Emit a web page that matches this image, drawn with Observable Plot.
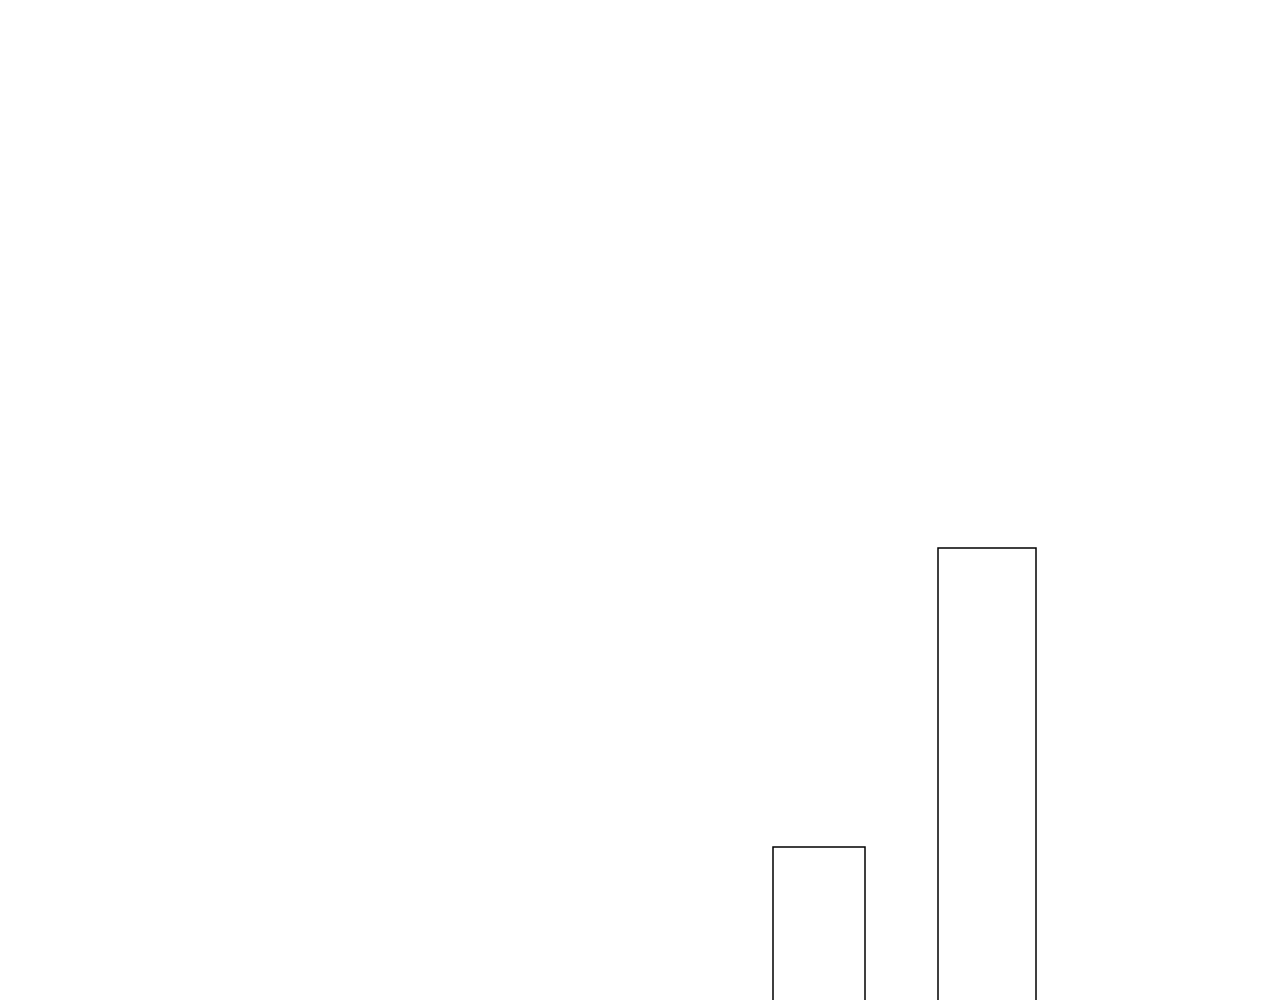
<!DOCTYPE html>
<html>
<head>
<meta charset="utf-8">
<script src="https://cdn.jsdelivr.net/npm/d3@7"></script>
<script src="https://cdn.jsdelivr.net/npm/@observablehq/plot@0.6"></script>
<style>
  html, body { margin: 0; padding: 0; background: #ffffff; overflow: hidden; }
  #chart svg { display: block; }
</style>
</head>
<body>
<div id="chart"></div>
<script>
// Categories and values
const categories = ["A", "B"];
const startPos = [7.73, 9.38];   // left edge on the x scale
const endPos = [8.65, 10.36];    // right edge on the x scale
const values = [2.53, 5.52];

const data = categories.map((c, i) => ({
  category: c,
  x1: startPos[i],
  x2: endPos[i],
  value: values[i]
}));

const chart = Plot.plot({
  width: 1280,
  height: 1000,
  margin: 0,
  style: { background: "transparent" },
  x: { axis: null, domain: [0, 12.8] },
  y: { axis: null, domain: [1, 11] },
  marks: [
    Plot.rect(data, {
      x1: "x1",
      x2: "x2",
      y1: 0,
      y2: "value",
      fill: "white",
      stroke: "black",
      strokeWidth: 1.5,
      clip: true
    })
  ]
});
document.getElementById("chart").appendChild(chart);
</script>
</body>
</html>
